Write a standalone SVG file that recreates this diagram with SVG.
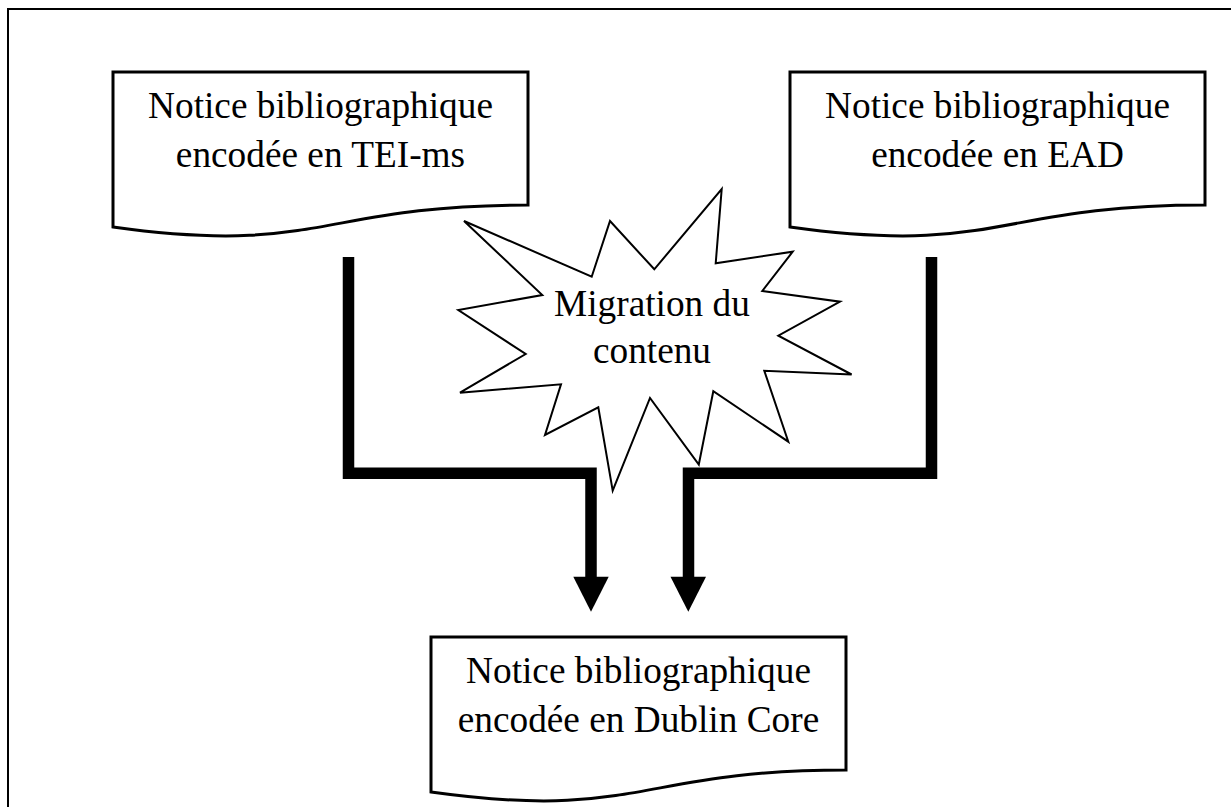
<svg xmlns="http://www.w3.org/2000/svg" width="1231" height="807" viewBox="0 0 1231 807">
  <style>
    .doc { fill: #ffffff; stroke: #000000; stroke-width: 3; stroke-linejoin: miter; }
    .star { fill: #ffffff; stroke: #000000; stroke-width: 2; stroke-linejoin: miter; }
    .label { font-family: "Liberation Serif", "Times New Roman", serif; font-size: 37.3px; fill: #000000; text-anchor: middle; }
    .flow { fill: none; stroke: #000000; stroke-width: 11.5; stroke-linejoin: miter; stroke-linecap: butt; }
    .head { fill: #000000; stroke: none; }
  </style>
  <defs>
    <!-- flowchart "document" shape, 415 x 166, wavy bottom edge -->
    <path id="docShape" d="M0,0 H415 V133 C207.5,133 207.5,184 0,155 Z"/>
  </defs>

  <rect x="0" y="0" width="1231" height="807" fill="#ffffff"/>

  <!-- page frame (open to the right and bottom) -->
  <path d="M8,807 V9 H1231" fill="none" stroke="#000000" stroke-width="2"/>

  <g id="connectors">
    <path class="flow" d="M348.5,257 V473.3 H591 V577"/>
    <polygon class="head" points="573.3,576.7 608.7,576.7 591,611.7"/>
    <path class="flow" d="M931.5,257 V473.3 H688.5 V577"/>
    <polygon class="head" points="670.5,576.7 706,576.7 688.3,611.7"/>
  </g>

  <g id="node-tei">
    <use href="#docShape" class="doc" transform="translate(113,72)"/>
    <text class="label" x="320.5" y="118">Notice bibliographique</text>
    <text class="label" x="320.5" y="167">encodée en TEI-ms</text>
  </g>

  <g id="node-ead">
    <use href="#docShape" class="doc" transform="translate(790,72)"/>
    <text class="label" x="997.5" y="118">Notice bibliographique</text>
    <text class="label" x="997.5" y="167">encodée en EAD</text>
  </g>

  <g id="node-migration">
    <polygon class="star" points="464,221 591.7,276.7 610,221 654.3,269.3 721.7,189 715.7,263.3 792.7,251.7 762.3,291 840,301.7 778.3,335.7 851.6,374.5 764.3,370.7 788.3,441.7 713.3,391.2 698.8,464.5 650,398 612.7,490.7 598.3,407.3 545,435 561,384.3 460,392.7 525.7,354 458.3,310 542.3,295"/>
    <text class="label" x="652" y="316">Migration du</text>
    <text class="label" x="652" y="363">contenu</text>
  </g>

  <g id="node-dublin-core">
    <use href="#docShape" class="doc" transform="translate(431,637)"/>
    <text class="label" x="638.5" y="683">Notice bibliographique</text>
    <text class="label" x="638.5" y="732">encodée en Dublin Core</text>
  </g>
</svg>
